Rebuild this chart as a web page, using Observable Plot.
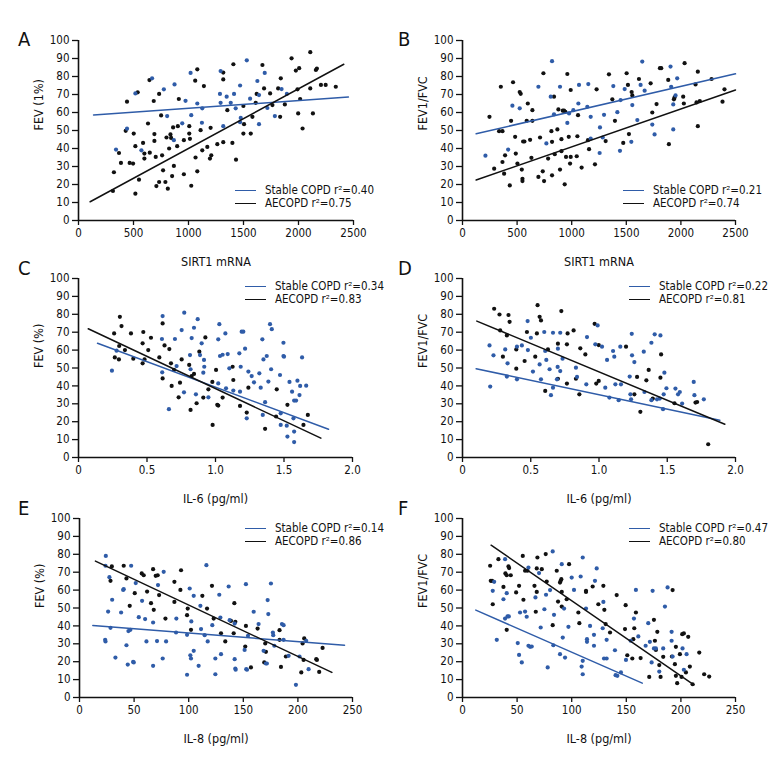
<!DOCTYPE html>
<html><head><meta charset="utf-8">
<script src="https://cdn.jsdelivr.net/npm/d3@7"></script>
<script src="https://cdn.jsdelivr.net/npm/@observablehq/plot@0.6"></script>
<style>
body{margin:0;background:#fff}
#wrap{position:relative;width:780px;height:780px;font-family:"Liberation Sans Narrow","DejaVu Sans Condensed",sans-serif;color:#111}
.panel{position:absolute}
.letter{position:absolute;font-size:20px;line-height:20px}
.leg{position:absolute;font-size:11.5px;line-height:11px;white-space:nowrap}
.leg .sw{position:absolute;width:21px;height:0;border-top:1.5px solid}
.leg .tx{position:absolute;left:30px;top:-6px;line-height:11px}
</style></head>
<body><div id="wrap"></div>
<script>
const BLUE = "#2f5ca8", BLACK = "#111";

// ---------- Panel A: SIRT1 mRNA vs FEV (1%) ----------
const aBlue = [[341,39.4],[441,51],[517,70.6],[572,39],[669,79],[776,72.9],[806,58],[867,44.6],[873,75.6],[943,54],[973,66.5],[1019,82],[1025,58.5],[1080,65],[1125,62.3],[1122,54.3],[1286,70.3],[1292,83],[1292,65.4],[1316,52.4],[1347,68.8],[1384,65.4],[1414,70.3],[1429,62.3],[1469,75],[1475,57],[1469,54.6],[1530,89],[1560,67.7],[1626,77.5],[1641,69.7],[1641,53.5],[1693,82],[1717,62.5],[1785,58],[1846,73],[1894,70.3]];
const aBlack = [[322,26.8],[313,16.4],[368,37.5],[386,32],[441,66],[429,49.8],[465,32],[496,31.6],[502,48.3],[517,41.3],[517,14.9],[538,71.2],[550,22.7],[587,43.1],[599,34.4],[599,37.2],[632,53.9],[648,37.7],[645,78],[684,66.4],[690,48],[690,44.2],[702,35.3],[708,19.1],[733,21.4],[733,70.3],[751,58.4],[760,36.2],[769,27.9],[790,21.4],[800,46.1],[812,17.7],[824,40],[836,47.8],[842,45.9],[851,24.7],[860,51.7],[867,30.3],[897,41.3],[903,52.4],[912,67.5],[958,25.7],[958,44.6],[1007,52.4],[1007,48.3],[1013,45.4],[1025,19.3],[1061,77.7],[1064,35],[1080,84],[1080,27.3],[1110,50.2],[1125,39],[1140,74.7],[1171,40.9],[1195,34.4],[1201,51.5],[1207,36.2],[1262,42.4],[1316,78.4],[1316,82.2],[1316,43.5],[1353,61.3],[1399,43.1],[1408,86.8],[1432,33.8],[1499,48.3],[1505,53.5],[1499,63.6],[1566,48.3],[1581,57.6],[1611,65.4],[1620,70.3],[1672,86.4],[1687,73.4],[1742,70.6],[1763,64.1],[1815,73.4],[1833,57.6],[1839,79],[1876,64.5],[1937,90.1],[1976,83.3],[1991,72.9],[1997,59.5],[2006,84.6],[2015,67.5],[2037,51.1],[2107,93.5],[2107,73.4],[2131,59.5],[2158,83.6],[2167,84.4],[2204,75.3],[2247,75.3],[2339,74.3]];
const aFitBlue = [[137,58.6],[2454,68.6]];
const aFitBlack = [[106,10.4],[2412,86.8]];

// ---------- Panel B: SIRT1 mRNA vs FEV1/FVC ----------
const bBlue = [[210,36],[457,63.8],[418,39.4],[524,62.3],[695,74.3],[768,42.8],[808,68.8],[820,88.5],[838,59],[893,74.3],[960,54.2],[976,59.5],[1015,61.3],[1067,75.3],[1061,65],[1143,63.2],[1152,75.8],[1174,57.6],[1174,45.5],[1259,51.7],[1256,37.5],[1284,46.1],[1296,58.7],[1381,74.7],[1418,60.2],[1448,66.9],[1442,38.7],[1485,73],[1546,43.7],[1555,64.1],[1601,55.8],[1631,75.3],[1646,88.3],[1668,72.1],[1738,53.3],[1759,47.8],[1905,85.5],[1911,74.3],[1930,64.5],[1930,50.6],[1951,69.5],[1966,79]];
const bBlack = [[247,57.6],[290,28.8],[335,49.6],[351,74.3],[366,49.6],[366,32.5],[381,26],[390,36.2],[433,19.5],[445,55.4],[463,76.8],[482,46.5],[488,37.2],[503,31.6],[524,71.4],[533,70.4],[543,28.3],[549,23.2],[549,21.9],[555,43.9],[567,43.9],[588,55.4],[598,65],[619,44.8],[631,34.8],[640,61.3],[640,55.4],[695,24.2],[710,46.1],[735,27.3],[741,81.8],[747,21.9],[784,34.4],[814,49.6],[820,43.7],[820,25.1],[838,68.8],[845,36.8],[869,50.6],[878,61.7],[893,28.3],[906,38.5],[906,45.2],[918,61],[930,61],[936,20.1],[942,60.4],[948,35.3],[960,81.4],[973,46.5],[985,31.6],[991,72.5],[991,35.3],[1046,35.7],[1058,58.5],[1052,46.8],[1091,29.4],[1159,39.6],[1149,44.6],[1213,31.2],[1228,72.9],[1311,44.1],[1341,81.2],[1372,67.3],[1396,55.4],[1472,43.1],[1503,81.8],[1515,75.3],[1524,48],[1549,71.4],[1555,69.5],[1616,78.6],[1723,76.2],[1738,60],[1777,64.7],[1808,84.6],[1820,84.6],[1884,78.1],[1890,42.4],[1936,67.3],[1942,68.4],[2021,68.8],[2027,65],[2034,87.4],[2134,75.6],[2143,65.6],[2155,82.7],[2155,52.4],[2173,66.4],[2281,78.6],[2381,66],[2399,72.9]];
const bFitBlue = [[125,48.2],[2500,81.5]];
const bFitBlack = [[125,22.5],[2500,72.5]];

// ---------- Panel C: IL-6 vs FEV (%) ----------
const cBlue = [[0.244,48.5],[0.278,59.7],[0.614,79],[0.609,66.2],[0.611,47.6],[0.66,27],[0.704,66.2],[0.716,51.1],[0.753,71.2],[0.772,80.9],[0.77,36.4],[0.814,57.2],[0.818,49.3],[0.826,66.7],[0.843,72.5],[0.857,35.3],[0.87,77.3],[0.887,57.2],[0.899,63.8],[0.911,47.4],[0.916,54.5],[0.918,50.7],[0.948,33.6],[1.02,66],[1.028,74.5],[1.02,41.4],[1.033,56.7],[1.052,57.4],[1.072,69.3],[1.077,38.7],[1.089,57.8],[1.101,49.8],[1.13,37.4],[1.174,58.2],[1.184,50.7],[1.179,36.8],[1.191,70.3],[1.203,70.3],[1.216,60.8],[1.228,21.9],[1.24,48],[1.264,45.5],[1.281,42],[1.32,47],[1.33,39],[1.345,23.8],[1.342,66],[1.35,54.8],[1.362,30.9],[1.374,56.7],[1.386,42.4],[1.398,74.5],[1.406,49.3],[1.411,71.7],[1.471,46.1],[1.476,24.7],[1.476,18.2],[1.496,64.1],[1.496,56.7],[1.5,56.3],[1.52,17.8],[1.525,11.7],[1.54,42.2],[1.559,36.8],[1.569,21.9],[1.574,31.8],[1.574,14.5],[1.574,8.6],[1.588,31.8],[1.598,42.9],[1.613,34.9],[1.618,40],[1.632,55.9],[1.662,40.1]];
const cBlack = [[0.26,69.3],[0.265,55.9],[0.295,54.8],[0.297,62.3],[0.302,78.6],[0.314,73.4],[0.339,60],[0.383,69.3],[0.4,55.2],[0.468,52.6],[0.468,63.8],[0.473,70.1],[0.482,54.8],[0.509,60],[0.529,66.9],[0.59,55.9],[0.614,74.9],[0.614,44.2],[0.628,62.6],[0.663,60.6],[0.675,52.6],[0.68,40],[0.697,48.9],[0.731,33.6],[0.741,41.8],[0.753,54.8],[0.818,26.6],[0.808,51.7],[0.826,45.5],[0.843,46.7],[0.862,30.3],[0.882,59.1],[0.911,33.5],[0.926,67.1],[0.948,38.1],[0.979,18.2],[0.977,42.2],[1.004,48.9],[1.013,29.4],[1.02,29],[1.052,33.5],[1.125,50.7],[1.13,43.3],[1.179,28.8],[1.228,25.1],[1.24,39],[1.362,16],[1.447,38.1],[1.442,22.9],[1.525,29.4],[1.642,18.2],[1.674,23.8]];
const cFitBlue = [[0.139,63.8],[1.825,15.8]];
const cFitBlack = [[0.071,71.9],[1.769,10.8]];

// ---------- Panel D: IL-6 vs FEV1/FVC ----------
const dBlue = [[0.198,62.6],[0.203,39.6],[0.227,57.1],[0.313,60.4],[0.33,52.6],[0.325,45.2],[0.399,61.9],[0.399,43.7],[0.435,62.6],[0.477,76.2],[0.479,60],[0.501,66.9],[0.516,48],[0.565,52],[0.575,43.7],[0.599,70.1],[0.606,59.5],[0.614,54.5],[0.638,49.3],[0.648,34.8],[0.663,69.7],[0.663,39],[0.692,43.7],[0.697,50.6],[0.699,60.8],[0.716,69.7],[0.716,48.3],[0.733,55.2],[0.831,50.2],[0.839,45],[0.907,40.9],[0.912,67.3],[0.973,63.2],[0.99,73.8],[1.022,61.9],[1.046,39],[1.059,54.5],[1.076,33.5],[1.103,59.5],[1.112,56.3],[1.12,40.9],[1.144,32],[1.156,61.9],[1.161,40.9],[1.225,45.2],[1.23,35.3],[1.24,69.1],[1.235,32.5],[1.242,57.1],[1.259,53.3],[1.328,59.1],[1.333,36.6],[1.384,64.1],[1.384,32],[1.408,68.8],[1.425,32.5],[1.445,32.9],[1.45,68.2],[1.469,27],[1.474,35.3],[1.479,47.4],[1.494,38.7],[1.56,38.5],[1.579,35.3],[1.592,36.6],[1.609,30.1],[1.694,42.2],[1.699,34.8],[1.768,32.5]];
const dBlack = [[0.232,83.1],[0.271,79.9],[0.276,71],[0.296,56.3],[0.325,68.2],[0.337,79.6],[0.345,75.8],[0.394,60.4],[0.394,49.6],[0.455,53.9],[0.472,70.1],[0.533,56.3],[0.545,69.3],[0.55,85.1],[0.565,78.6],[0.575,76.6],[0.606,37.2],[0.626,60.4],[0.699,63.6],[0.699,44],[0.724,81.8],[0.765,63.2],[0.77,69.3],[0.765,41.3],[0.814,71],[0.831,44],[0.856,35.3],[0.863,61],[0.9,57.6],[0.968,74.7],[0.98,41.3],[0.998,42.8],[0.998,62.8],[1.198,61.9],[1.259,35.3],[1.279,45],[1.303,25.5],[1.347,43.1],[1.364,48.9],[1.394,32.9],[1.45,44.6],[1.455,57.6],[1.553,30.3],[1.707,30.7],[1.719,31],[1.8,7.4]];
const dFitBlue = [[0.1,49.6],[1.885,20.8]];
const dFitBlack = [[0.105,76.2],[1.922,18.6]];

// ---------- Panel E: IL-8 vs FEV (%) ----------
const eBlue = [[24.1,79.1],[23.8,73.6],[23.5,32.2],[23.8,31.3],[26.2,48],[27.4,67.2],[28.4,38.9],[29.9,54.6],[32.9,22.3],[38.1,47.5],[40,60.1],[40.5,60.5],[43,29.2],[44.2,18.4],[44.8,37.1],[46.6,37.8],[47.3,73.6],[49.1,19.9],[49.7,19.6],[51.5,63.9],[54.3,44.9],[57.3,54],[60.1,43.8],[61.3,31.3],[67.4,17.7],[67.4,41.9],[71,31.5],[71.9,62.8],[76.2,21.8],[77.1,70.2],[79.3,31.3],[88.7,44.1],[88.4,36.3],[98.5,35],[98.5,12.7],[100.9,60.9],[101.5,23.6],[102.1,21.8],[102.4,42.5],[104.6,56.8],[104.6,26.1],[109.1,17.7],[110.7,51.2],[111.3,38.2],[114.6,34.8],[116.2,73.9],[117.4,31.3],[121.6,40.4],[124.4,21.8],[124.4,13],[128,57.4],[129,44.7],[129.6,24.2],[136.6,62],[137.5,43.2],[142.1,41.3],[142.1,21.4],[142.7,16.2],[143,15.5],[151.2,26.6],[152.4,63.3],[152.7,15.8],[153.4,15.5],[154.3,34.5],[159.5,47.9],[164,41],[168.6,26.1],[170.7,19],[171.6,19],[172.3,54.4],[172.9,46.6],[175.3,63.7],[177.1,36.3],[177.4,34.8],[178.4,28.9],[185.4,41],[186.9,40.4],[186.9,32.2],[191.5,23.3],[198.2,7.1],[201.5,22.9],[207.6,31.7],[209.8,15.8]];
const eBlack = [[29.6,73.2],[28.4,65.2],[40.5,73.6],[43,66.5],[46,51.2],[50.6,58.3],[57,69.3],[58.8,68.3],[61.9,59.2],[65.5,52.7],[67.4,71.7],[68,49],[69.8,68],[71.6,68.3],[72.9,57.2],[78.7,44.1],[86.9,64.6],[86.9,53.4],[92.4,60.1],[93,71.1],[98.5,46],[99.1,49.7],[102.1,37.8],[112.5,56.8],[116.8,49.7],[121.3,62.4],[122.9,44.1],[129.6,35.9],[133.5,31.3],[138.7,42.8],[141.2,35.9],[141.8,52.7],[142.7,42.3],[152.4,40],[151.8,28.5],[157,16.8],[163.1,38.5],[170.1,30.2],[170.7,25.5],[169.2,19.6],[183.2,32.2],[183.2,37.6],[184.5,17.1],[189,22.9],[203.1,14],[204.3,30.2],[205.8,33],[205.2,21],[216.8,21.4],[217.4,21],[219.5,14.3],[222.6,27.7]];
const eFitBlue = [[12.2,40.2],[242.7,29.2]];
const eFitBlack = [[14.6,76.2],[231.1,14]];

// ---------- Panel F: IL-8 vs FEV1/FVC ----------
const fBlue = [[29,64.6],[27.7,59.6],[31.4,32.2],[37.5,54.9],[39,77.3],[39,44.1],[40.5,58.3],[41.2,45.3],[42.4,45.3],[50.6,30.4],[51.8,23.8],[52.7,47.5],[54.3,19.6],[57.3,48],[58.8,45.1],[60.4,28.9],[61.9,28.3],[63.4,28.5],[60.4,72.6],[66.8,55.9],[70.1,69.5],[71.6,39.1],[75,49.3],[76.5,57.4],[78,16.8],[80.2,60],[82.6,81.6],[83.2,29.2],[83.8,46.2],[89.3,24.2],[90.9,74.5],[91.8,33.5],[93,49.7],[93.9,22.3],[97,39.5],[100,67],[102.1,60.1],[108.2,67.6],[109.1,17.3],[110.1,78.2],[110.1,20.5],[110.1,13],[113.1,49.7],[114,32.6],[114,31.1],[116.8,40],[120.4,28.9],[120.4,35],[121.3,65.2],[122.9,72.1],[128.4,38.7],[129,53.4],[129.6,21.8],[132,21.8],[132,32.2],[139.6,26.4],[140.2,12.5],[141.8,12.1],[145.1,14],[149.7,21],[154,31.7],[157,44.1],[158.8,60.1],[161,34.1],[167.7,28.9],[170.1,41.5],[171.6,31.1],[173.2,19.6],[174.1,59.6],[175.3,27.4],[177.1,27.4],[180.2,14.5],[183.8,27.4],[185.4,50.8],[187.8,61.5],[191.5,36.7],[191.5,31.7],[192.4,22.9],[201.5,27.4],[202.7,15.5],[205.2,24.2]];
const fBlack = [[25.3,73.6],[25.9,65.2],[27.1,65.2],[27.7,52.1],[32.9,77.3],[37.5,61.8],[39.3,69.3],[40.5,68.3],[40.5,37.8],[42.1,73.2],[42.7,72.3],[44.2,68.3],[49.1,58.7],[51.8,62.4],[55.2,79.1],[55.8,54.6],[57.3,70.8],[59.5,70.8],[65.9,62.4],[67.1,47.9],[68,59],[68.6,78.2],[68,72.1],[72.6,71.7],[76.2,80.1],[77.1,64.8],[82.6,40.4],[86.3,70.8],[87.5,53.6],[89.3,64.2],[89.9,65.2],[90.5,66.1],[90.9,50.8],[90.9,59],[95.4,54.9],[97.6,74.5],[106.1,47.5],[107,41.5],[113.1,59],[113.1,59.6],[119.2,62],[124.4,52.1],[129,62.4],[129.9,49],[131.1,41],[135.1,36.3],[141.2,57.2],[148.8,38.2],[149.4,51.6],[150.9,23.6],[155.5,21.8],[156.4,32.6],[157.3,38.7],[158.8,47.5],[163.1,22],[171,11.5],[175.3,43.4],[176.2,31.7],[177.1,26.6],[178.4,36.7],[180.2,18.1],[181.4,11.5],[183.8,22.7],[191.8,22.9],[192.4,60],[194.5,18.6],[195.4,28.3],[195.4,12.1],[196.6,8],[199.1,24.2],[200.6,11.5],[201.2,35.4],[202.7,35.8],[204.6,14],[206.7,33.9],[208.2,17.3],[210.7,7.4],[216.8,25.1],[221.3,13],[225.9,11.7]];
const fFitBlue = [[12.2,48.8],[164.6,8]];
const fFitBlack = [[26.2,85.1],[211.9,7.1]];

// ---------- Text ----------
const letters = ["A","B","C","D","E","F"];
const xTitles = ["SIRT1 mRNA","SIRT1 mRNA","IL-6 (pg/ml)","IL-6 (pg/ml)","IL-8 (pg/ml)","IL-8 (pg/ml)"];
const yTitles = ["FEV (1%)","FEV1/FVC","FEV (%)","FEV1/FVC","FEV (%)","FEV1/FVC"];
const r2Stable = ["0.40","0.21","0.34","0.22","0.14","0.47"];
const r2Ae = ["0.75","0.74","0.83","0.81","0.86","0.80"];
const sirtTicks = [0,500,1000,1500,2000,2500];
const il6Ticks = [0,0.5,1.0,1.5,2.0];
const il8Ticks = [0,50,100,150,200,250];
const yTicks = [0,10,20,30,40,50,60,70,80,90,100];

const FONT = '"Liberation Sans Narrow","DejaVu Sans Condensed",sans-serif';
const wrap = document.getElementById("wrap");

const panels = [
  {blue:aBlue, black:aBlack, fb:aFitBlue, fk:aFitBlack, xd:[0,2500], xt:sirtTicks, fmt:d=>String(d)},
  {blue:bBlue, black:bBlack, fb:bFitBlue, fk:bFitBlack, xd:[0,2500], xt:sirtTicks, fmt:d=>String(d)},
  {blue:cBlue, black:cBlack, fb:cFitBlue, fk:cFitBlack, xd:[0,2], xt:il6Ticks, fmt:d=>d===0?"0":d.toFixed(1)},
  {blue:dBlue, black:dBlack, fb:dFitBlue, fk:dFitBlack, xd:[0,2], xt:il6Ticks, fmt:d=>d===0?"0":d.toFixed(1)},
  {blue:eBlue, black:eBlack, fb:eFitBlue, fk:eFitBlack, xd:[0,250], xt:il8Ticks, fmt:d=>String(d)},
  {blue:fBlue, black:fBlack, fb:fFitBlue, fk:fFitBlack, xd:[0,250], xt:il8Ticks, fmt:d=>String(d)}
];
// layout: [left, top, height, marginTop, marginBottom, marginLeft, marginRight]
const layout = [
  [0,0,270,40,50,78,37],[390,0,270,40,50,72,45],
  [0,260,245,18,48,78,38],[390,260,245,18,48,72,45],
  [0,500,280,18,83,79,38],[390,500,280,18,83,72,45]
];
const letterPos = [[18,29],[398,29],[18,258],[398,258],[18,498],[398,498]];
const legPos = [[235,191],[623,191],[245,287],[629,287],[245,529],[629,529]];
const legGap = [13,13,13,13,13,13];

panels.forEach((p,i)=>{
  const [left,top,h,mt,mb,ml,mr] = layout[i];
  const svg = Plot.plot({
    width:390, height:h, marginTop:mt, marginBottom:mb, marginLeft:ml, marginRight:mr,
    style:{fontSize:"11.5px", fontFamily:FONT, color:"#111", background:"transparent", overflow:"visible"},
    x:{domain:p.xd}, y:{domain:[0,100]},
    marks:[
      Plot.axisX({ticks:p.xt, tickFormat:p.fmt, tickSize:5, tickPadding:3, label:null, strokeWidth:1.3}),
      Plot.axisY({ticks:yTicks, tickSize:6, tickPadding:3, label:null, strokeWidth:1.3}),
      Plot.ruleX([0], {strokeWidth:1.6}),
      Plot.ruleY([0], {strokeWidth:1.6}),
      Plot.dot(p.black, {x:d=>d[0], y:d=>d[1], r:2.1, fill:BLACK, stroke:null}),
      Plot.dot(p.blue, {x:d=>d[0], y:d=>d[1], r:2.1, fill:BLUE, stroke:null}),
      Plot.line(p.fb, {x:d=>d[0], y:d=>d[1], stroke:BLUE, strokeWidth:1.5}),
      Plot.line(p.fk, {x:d=>d[0], y:d=>d[1], stroke:BLACK, strokeWidth:1.5}),
      Plot.text([xTitles[i]], {frameAnchor:"bottom", dy:41, lineAnchor:"middle", fontSize:12.5, fill:"#111"}),
      Plot.text([yTitles[i]], {frameAnchor:"left", dx:-40, rotate:-90, lineAnchor:"middle", fontSize:12.5, fill:"#111"})
    ]
  });
  svg.classList.add("panel");
  svg.style.left = left+"px"; svg.style.top = top+"px";
  wrap.appendChild(svg);

  const L = document.createElement("div");
  L.className = "letter"; L.textContent = letters[i];
  L.style.left = letterPos[i][0]+"px"; L.style.top = letterPos[i][1]+"px";
  wrap.appendChild(L);

  const [lx,ly] = legPos[i];
  [[BLUE,"Stable COPD r²=",r2Stable[i]],[BLACK,"AECOPD r²=",r2Ae[i]]].forEach(([c,t,v],k)=>{
    const g = document.createElement("div");
    g.className = "leg";
    g.style.left = lx+"px"; g.style.top = (ly + k*legGap[i])+"px";
    g.innerHTML = `<div class="sw" style="border-color:${c};top:-1px"></div><div class="tx">${t}${v}</div>`;
    wrap.appendChild(g);
  });
});
</script>
</body></html>
